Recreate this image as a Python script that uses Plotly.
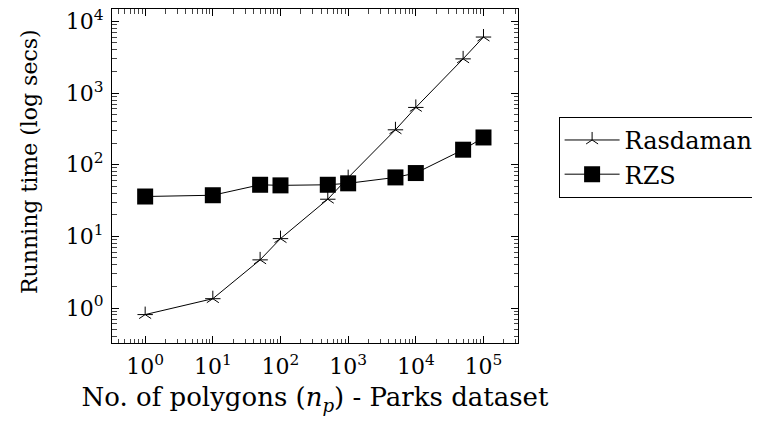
import plotly.graph_objects as go

polygons = [1, 10, 50, 100, 500, 1000, 5000, 10000, 50000, 100000]
rasdaman = [0.81, 1.35, 4.7, 9.3, 33, 66, 307, 630, 3000, 6050]
rzs = [36, 37.5, 52.5, 51.5, 52.5, 55, 66.5, 76.5, 162, 240]
tick_vals = [1, 10, 100, 1000, 10000, 100000]
tick_text = ["10<sup>%d</sup>" % i for i in range(6)]
ytick_vals = [1, 10, 100, 1000, 10000]
ytick_text = ["10<sup>%d</sup>" % i for i in range(5)]
x_minor = [m * 10 ** k for k in range(-1, 6) for m in range(2, 10)]
y_minor = [m * 10 ** k for k in range(-1, 5) for m in range(2, 10)]

FONT = "DejaVu Serif"
XRANGE = [-0.49, 5.51]
YRANGE = [-0.488, 4.173]

fig = go.Figure()
fig.add_trace(go.Scatter(
    x=polygons, y=rasdaman, mode="lines+markers", name="Rasdaman",
    legendgroup="r",
    line=dict(color="black", width=1),
    marker=dict(symbol="y-up-open", size=10, color="black",
                line=dict(color="black", width=1)),
))
fig.add_trace(go.Scatter(
    x=polygons, y=rasdaman, mode="markers", name="Rasdaman",
    legendgroup="r", showlegend=False,
    marker=dict(symbol="line-ew-open", size=11, color="black",
                line=dict(color="black", width=1)),
))
fig.add_trace(go.Scatter(
    x=polygons, y=rzs, mode="lines+markers", name="RZS",
    line=dict(color="black", width=1),
    marker=dict(symbol="square", size=16, color="black",
                line=dict(color="black", width=0)),
))

axis_common = dict(
    type="log", showgrid=False, zeroline=False, automargin=False,
    showline=True, linecolor="black", linewidth=1, mirror="allticks",
    ticks="inside", ticklen=7, tickcolor="black", tickwidth=1,
    tickfont=dict(family=FONT, size=22, color="black"),
    ticklabeloverflow="allow",
)

fig.update_xaxes(
    range=XRANGE, tickvals=tick_vals, ticktext=tick_text,
    title=dict(text="No. of polygons (<i>n</i><sub><i>p</i></sub>) - Parks dataset",
               font=dict(family=FONT, size=26, color="black"), standoff=9),
    ticklabelstandoff=4,
    **axis_common,
)
fig.update_yaxes(
    range=YRANGE, tickvals=ytick_vals, ticktext=ytick_text,
    ticklabelstandoff=3,
    **axis_common,
)

# y-axis title (pgfplots places it slightly above the axis centre)
fig.add_annotation(
    text="Running time (log secs)", textangle=-90,
    xref="paper", yref="paper", x=-0.202, y=0.545,
    xanchor="center", yanchor="middle", showarrow=False,
    font=dict(family=FONT, size=22, color="black"),
)

# minor tick axes (overlaid, no labels)
minor_common = dict(
    type="log", showgrid=False, zeroline=False, automargin=False,
    showline=True, linecolor="black", linewidth=1,
    mirror="allticks", showticklabels=False,
    ticks="inside", ticklen=4.5, tickcolor="#444", tickwidth=1,
)

fig.update_layout(
    xaxis2=dict(overlaying="x", side="bottom", range=XRANGE, tickvals=x_minor,
                anchor="y", **minor_common),
    yaxis2=dict(overlaying="y", side="left", range=YRANGE, tickvals=y_minor,
                anchor="x", **minor_common),
)
# invisible trace to activate the minor-tick axes
fig.add_trace(go.Scatter(x=[polygons[0]], y=[rzs[0]], xaxis="x2", yaxis="y2",
                         mode="markers", marker=dict(opacity=0),
                         showlegend=False, hoverinfo="skip"))

# page body has an 8px margin: compensate
fig.update_layout(
    width=760, height=426,
    margin=dict(l=104, r=250, t=1, b=91),
    paper_bgcolor="white", plot_bgcolor="white",
    font=dict(family=FONT, size=24, color="black"),
    showlegend=True,
    legend=dict(
        x=1.1, y=0.677, xanchor="left", yanchor="top",
        bordercolor="black", borderwidth=1, bgcolor="white",
        font=dict(family=FONT, size=24, color="black"),
        tracegroupgap=0, itemwidth=55,
    ),
)

fig.write_html("out.html")
